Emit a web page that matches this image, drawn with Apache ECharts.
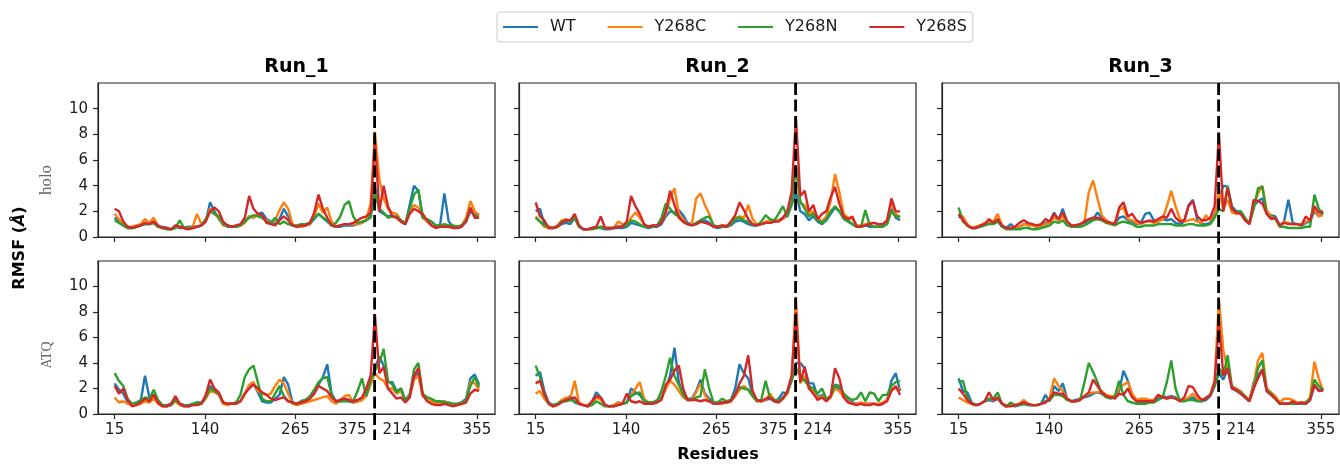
<!DOCTYPE html>
<html><head><meta charset="utf-8">
<script src="https://cdn.jsdelivr.net/npm/echarts@6/dist/echarts.min.js"></script>
<style>html,body{margin:0;padding:0;background:#fff}#c{width:1340px;height:466px}</style>
</head><body><div id="c"></div>
<script>
// ---- data ----
// position index along the concatenated chains (chain A 15..374, chain B 214..)
const positions = [0,6,12,18,24,30,36,42,48,54,60,66,72,78,84,90,96,102,108,114,120,126,132,138,144,150,156,162,168,174,180,186,192,198,204,210,216,222,228,234,240,246,252,258,264,270,276,282,288,294,300,306,312,318,324,330,336,342,348,354,360,366,372,378,384,390,396,402,408,414,420,426,432,438,444,450,456,462,468,474,480,486,492,498,504];
const tickPositions = [0,125,250,359.5,501];
const tickLabels = ['15','140','265','375|214','355'];
const chainBoundary = 359.5;
const yTicks = [0,2,4,6,8,10];
const runs = ['Run_1','Run_2','Run_3'];
const states = ['holo','ATQ'];
const variants = ['WT','Y268C','Y268N','Y268S'];
const colors = ['#1f77b4','#ff7f0e','#2ca02c','#d62728'];

const holo_run1_WT    = [1.5,1.2,0.9,0.7,0.7,0.8,0.9,1.0,1.0,1.1,0.8,0.8,0.7,0.6,0.8,0.7,0.7,0.8,0.8,0.8,0.9,1.2,2.7,2.0,1.4,1.0,0.8,0.8,0.8,0.9,1.2,1.6,1.5,1.8,1.9,1.4,1.2,1.0,1.4,2.2,1.6,0.9,0.8,0.8,0.9,1.0,1.4,1.8,1.5,1.2,0.9,0.8,0.8,0.9,0.9,0.9,1.0,1.1,1.3,1.9,4.0,2.0,1.8,1.6,1.7,1.5,1.2,1.0,2.5,4.0,3.6,1.6,1.3,1.2,0.9,0.9,3.4,1.2,0.8,0.8,0.9,1.2,2.0,1.7,1.8];
const holo_run1_Y268C = [1.8,1.4,1.0,0.8,0.8,0.9,1.0,1.4,1.1,1.5,0.9,0.7,0.7,0.6,0.8,0.8,0.7,0.7,0.8,1.8,1.0,1.3,2.2,1.8,1.5,0.9,0.9,0.8,0.8,0.9,1.1,1.6,1.5,1.8,1.5,1.3,1.1,1.3,2.1,2.7,2.2,1.0,0.8,0.8,0.9,1.0,1.6,2.6,1.9,2.3,1.2,0.8,0.9,1.0,1.0,1.0,1.0,1.1,1.4,2.6,8.2,4.5,3.0,2.2,1.9,1.8,1.3,1.0,2.0,2.5,2.3,1.5,1.2,0.9,0.8,0.8,0.9,0.8,0.8,0.8,0.9,1.5,2.8,2.0,1.7];
const holo_run1_Y268N = [1.3,1.1,0.9,0.7,0.7,0.8,0.9,1.0,1.0,1.1,0.8,0.7,0.6,0.6,0.7,1.3,0.7,0.7,0.7,0.8,0.9,1.4,2.0,1.8,1.6,1.0,0.9,0.8,0.8,0.9,1.2,1.5,1.7,1.6,1.5,1.2,1.1,1.5,1.0,1.2,1.0,0.9,0.9,1.0,1.0,1.1,1.5,1.8,1.5,1.3,0.9,1.1,1.6,2.5,2.8,1.6,1.1,1.2,1.3,1.5,3.5,2.2,1.9,1.5,1.6,1.6,1.3,1.1,2.2,3.3,3.7,1.5,1.4,1.2,0.9,0.9,1.0,0.9,0.9,0.8,0.9,1.3,2.2,1.6,1.6];
const holo_run1_Y268S = [2.2,2.0,1.2,0.8,0.7,0.8,0.9,1.1,1.0,1.2,0.9,0.7,0.7,0.6,0.9,0.8,0.7,0.6,0.7,0.8,0.9,1.2,2.0,2.3,2.0,1.2,0.9,0.8,0.9,1.0,1.5,3.2,2.2,1.8,1.7,1.1,1.0,0.9,1.3,1.6,1.3,0.9,0.8,0.9,0.9,1.1,1.9,3.3,2.2,1.5,0.9,0.8,0.9,1.0,1.0,1.1,1.3,1.5,1.6,1.9,7.6,2.0,4.0,2.4,1.6,1.5,1.2,1.0,1.8,2.2,2.0,1.8,1.3,0.9,0.7,0.8,0.8,0.8,0.7,0.7,0.8,1.2,2.3,1.5,1.5];

const holo_run2_WT    = [2.0,2.2,1.0,0.7,0.7,0.8,1.0,1.1,1.0,1.5,0.8,0.6,0.6,0.7,0.7,0.7,0.6,0.6,0.7,0.7,0.7,0.8,1.1,1.0,0.9,0.8,0.7,0.8,0.8,1.0,1.6,2.0,1.9,2.1,1.7,1.1,1.0,1.0,1.2,1.3,1.1,0.8,0.7,0.8,0.8,0.9,1.2,1.3,1.2,1.0,0.9,0.9,1.0,1.1,1.1,1.2,1.3,1.5,1.6,2.5,3.5,2.0,1.8,1.3,1.6,1.2,1.0,1.3,1.8,2.3,2.0,1.5,1.3,1.0,0.8,0.8,0.9,0.8,0.8,0.8,0.9,1.1,2.2,1.5,1.3];
const holo_run2_Y268C = [1.6,1.2,0.8,0.7,0.7,0.9,1.3,1.4,1.2,1.6,0.8,0.6,0.6,0.7,0.7,0.8,0.7,0.7,0.7,1.2,1.0,1.0,1.5,1.9,1.5,1.0,0.8,0.9,0.9,1.2,1.8,3.0,3.8,1.8,1.4,1.0,1.0,3.0,3.4,2.5,1.8,0.9,0.8,0.9,0.9,1.0,1.5,1.6,1.5,2.5,1.4,1.0,1.0,1.2,1.3,1.3,1.3,1.4,1.8,2.6,5.3,2.6,2.5,1.8,2.0,1.5,1.2,1.6,2.8,4.9,3.5,1.8,1.5,1.4,0.9,0.9,1.0,1.1,1.1,1.0,1.0,1.2,2.7,1.8,1.5];
const holo_run2_Y268N = [1.5,1.2,0.9,0.8,0.7,0.8,1.2,1.3,1.2,1.5,0.8,0.6,0.6,0.6,0.7,0.8,0.7,0.7,0.7,0.8,0.8,0.9,1.3,1.2,1.0,0.8,0.8,0.8,0.9,1.5,2.6,2.2,1.8,1.6,1.2,1.0,0.9,1.1,1.3,1.5,1.6,0.9,0.8,0.8,0.8,1.0,1.4,1.5,1.3,1.2,1.0,0.9,1.2,1.7,1.4,1.3,1.8,2.4,1.6,2.6,5.6,2.8,2.2,1.6,1.8,1.3,1.1,1.4,2.0,2.4,2.0,1.4,1.2,1.0,0.8,0.8,2.1,0.9,0.8,0.8,0.8,1.0,2.0,1.6,1.6];
const holo_run2_Y268S = [2.7,1.6,1.3,0.7,0.7,0.8,1.1,1.3,1.3,1.8,0.9,0.6,0.6,0.7,0.8,1.6,0.7,0.7,0.7,0.8,0.8,1.2,3.2,2.4,1.8,1.0,0.8,0.9,0.9,1.1,2.0,3.6,2.5,1.5,1.2,1.0,0.9,1.0,1.2,1.1,1.0,0.8,0.8,0.9,0.8,1.2,1.7,2.7,2.1,1.4,1.0,0.9,1.0,1.1,1.1,1.2,1.2,1.5,2.0,3.5,9.3,3.2,3.6,2.0,2.5,1.4,1.8,2.0,3.1,3.9,2.6,1.6,1.4,1.6,0.8,0.8,0.9,1.0,1.1,1.0,1.0,1.3,3.0,2.0,2.0];

const holo_run3_WT    = [1.6,1.4,0.9,0.7,0.7,0.9,1.0,1.2,1.1,1.3,0.8,0.7,1.0,0.7,0.8,1.0,1.0,0.9,0.8,0.9,1.1,1.2,1.9,1.3,2.2,1.2,0.9,0.9,1.0,1.1,1.3,1.4,1.9,1.5,1.2,1.1,1.0,1.5,1.6,1.3,1.2,1.0,1.1,1.8,1.9,1.3,1.2,1.4,1.3,1.4,1.1,1.0,1.2,2.5,2.9,1.3,1.0,1.0,1.1,1.8,3.0,4.0,3.9,2.4,2.0,2.0,1.4,1.1,2.4,2.8,3.0,1.9,1.7,1.6,0.9,1.2,2.9,1.1,1.0,0.9,1.1,1.2,2.0,1.6,1.9];
const holo_run3_Y268C = [1.7,1.6,1.0,0.7,0.8,0.9,1.1,1.2,1.2,1.8,0.9,0.7,0.7,0.7,0.8,1.0,0.9,0.9,0.8,0.9,1.0,1.1,1.5,1.3,1.6,1.0,0.9,0.9,1.0,1.2,3.5,4.4,3.0,1.7,1.3,1.1,1.1,2.1,2.3,1.4,1.3,1.1,1.0,1.2,1.2,1.1,1.2,1.4,2.4,3.6,2.4,1.4,1.2,1.3,1.4,1.2,1.1,1.7,1.3,1.6,3.6,2.2,2.9,1.9,1.8,1.9,1.4,1.0,2.3,3.4,4.0,2.1,1.6,1.4,0.9,1.2,1.1,1.0,1.0,1.0,1.2,1.3,2.2,1.6,1.7];
const holo_run3_Y268N = [2.3,1.2,0.9,0.7,0.7,0.8,0.9,1.0,1.0,1.2,0.8,0.6,0.6,0.6,0.6,0.7,0.7,0.6,0.6,0.7,0.8,0.9,1.2,1.1,1.3,0.9,0.8,0.8,0.8,0.9,1.1,1.3,1.4,1.3,1.1,1.0,0.9,1.1,1.2,1.1,1.0,0.8,0.8,0.9,0.9,0.9,1.0,1.0,1.0,1.0,0.9,0.9,0.9,1.0,1.0,0.9,0.9,0.9,1.0,1.5,2.2,2.0,4.0,2.2,1.9,2.0,1.5,1.0,2.2,3.8,3.9,1.8,1.5,1.4,0.8,0.8,0.7,0.7,0.7,0.7,0.8,0.8,3.3,2.2,1.8];
const holo_run3_Y268S = [1.8,1.3,0.9,0.7,0.7,0.9,1.0,1.4,1.1,1.4,0.9,0.7,0.7,0.8,1.1,1.3,1.1,1.0,0.9,1.0,1.4,1.2,1.8,1.4,1.9,1.2,0.9,0.9,1.0,1.2,1.4,1.5,1.5,1.4,1.2,1.1,1.0,2.3,2.7,1.6,1.8,1.3,1.1,1.2,1.3,1.2,1.4,1.6,1.5,2.2,1.5,1.2,1.3,2.4,2.8,1.6,1.3,1.3,1.5,2.4,8.1,2.0,3.8,2.2,1.9,1.8,1.3,1.0,2.9,2.8,2.6,1.8,1.4,1.5,0.9,1.1,1.0,1.0,1.0,0.9,1.6,1.3,2.4,1.9,2.0];

const ATQ_run1_WT    = [2.4,1.9,1.6,0.9,0.7,0.8,1.0,3.0,1.3,1.5,1.0,0.7,0.7,0.8,1.2,0.8,0.7,0.7,0.8,0.9,0.9,1.3,2.2,1.9,1.6,0.9,0.8,0.8,0.9,1.0,1.6,2.2,2.4,1.7,1.0,0.9,0.9,1.2,1.5,2.9,2.3,0.9,0.8,1.0,1.1,1.3,1.6,2.3,2.9,3.9,1.6,1.0,1.0,1.1,1.0,0.9,1.0,1.1,1.5,2.5,3.6,4.5,3.8,2.5,2.5,1.8,2.0,1.1,1.5,2.9,3.2,1.5,1.3,1.1,1.0,0.9,1.0,0.8,0.7,0.8,0.9,1.2,2.8,3.1,2.3];
const ATQ_run1_Y268C = [1.3,0.9,1.0,0.8,0.7,0.7,0.8,1.0,0.9,1.2,0.8,0.6,0.6,0.7,1.0,0.7,0.6,0.6,0.7,0.8,0.8,1.2,1.8,1.7,1.5,0.8,0.7,0.8,0.8,1.0,1.5,2.3,2.5,1.8,1.6,1.5,1.6,2.2,2.7,2.4,1.6,0.8,0.7,0.8,0.9,1.0,1.1,1.2,1.3,1.4,1.0,0.8,1.1,1.4,1.5,0.9,1.0,1.1,1.4,2.3,3.2,2.8,2.6,2.0,2.0,1.6,1.8,1.0,1.3,2.7,3.0,1.4,1.2,1.0,0.8,0.8,1.0,0.8,0.8,0.7,0.8,1.0,2.5,2.4,1.9];
const ATQ_run1_Y268N = [3.2,2.6,2.2,1.2,0.8,0.9,1.1,1.3,1.2,1.9,1.1,0.7,0.6,0.7,1.1,0.8,0.7,0.6,0.8,0.9,0.8,1.3,2.0,1.8,1.6,0.9,0.8,0.8,0.9,1.5,2.9,3.5,3.8,2.5,1.2,1.0,1.0,1.6,2.2,1.4,1.0,0.9,0.8,1.0,1.1,1.4,1.9,2.5,2.8,2.9,1.5,1.0,1.0,1.0,1.0,1.0,1.8,2.8,1.4,2.6,3.4,4.0,5.1,2.6,2.3,1.7,2.0,1.0,1.5,3.5,4.0,1.6,1.3,1.2,1.0,1.0,0.9,0.9,0.8,0.8,0.9,1.1,2.2,2.9,2.1];
const ATQ_run1_Y268S = [2.2,1.6,2.0,1.1,0.6,0.7,0.9,1.2,1.0,1.5,0.9,0.6,0.6,0.8,1.4,0.8,0.6,0.6,0.7,0.7,0.8,1.5,2.7,2.0,1.7,0.9,0.8,0.8,0.8,1.0,1.6,2.0,2.3,2.0,1.7,1.5,1.2,1.1,1.2,1.3,1.0,0.9,0.8,0.9,1.0,1.2,1.6,2.2,2.0,1.8,1.3,1.0,1.1,1.2,1.1,1.0,1.1,1.3,2.0,3.0,7.8,3.2,3.7,2.0,1.6,1.2,1.3,0.9,1.3,3.0,3.6,1.5,1.0,0.8,0.7,0.7,0.8,0.7,0.6,0.7,0.8,0.9,1.6,1.9,1.8];

const ATQ_run2_WT    = [3.0,3.3,1.8,0.9,0.7,0.8,1.0,1.1,1.4,0.9,0.8,0.7,0.6,1.0,1.7,1.3,0.7,0.6,0.7,0.9,0.8,0.9,2.0,1.7,1.5,1.0,0.9,0.9,1.1,1.3,2.0,3.0,5.2,2.5,1.6,1.2,1.2,1.8,2.7,1.6,1.2,0.9,0.8,0.9,0.9,1.1,2.0,3.9,3.2,2.8,1.5,1.1,1.0,1.1,1.2,1.0,1.2,1.7,1.6,2.7,4.0,4.0,3.6,2.4,2.4,1.3,1.5,1.1,1.3,2.2,2.0,1.4,1.1,0.9,0.8,0.8,0.8,0.8,0.8,0.7,0.8,1.1,2.6,3.2,1.8];
const ATQ_run2_Y268C = [1.6,1.8,1.2,0.8,0.6,0.8,1.1,1.3,1.2,2.6,0.9,0.7,0.7,0.9,1.3,1.1,0.7,0.6,0.7,0.9,0.8,0.9,1.5,2.0,2.5,1.2,0.9,0.9,1.0,1.2,2.0,2.6,2.3,1.8,1.3,1.1,1.1,1.7,2.4,1.5,1.0,0.8,0.8,0.8,0.9,1.0,1.4,1.9,2.2,1.9,1.4,1.0,1.0,1.1,1.6,1.1,1.0,1.2,1.6,2.8,9.2,2.4,3.0,2.0,1.8,1.2,1.4,1.0,1.3,2.0,1.8,1.3,1.0,0.8,0.8,0.9,0.8,0.8,0.8,0.8,0.9,1.1,2.0,2.0,2.0];
const ATQ_run2_Y268N = [3.8,2.9,1.5,0.8,0.7,0.8,1.0,1.0,1.1,1.0,0.8,0.7,0.6,0.7,1.0,0.8,0.6,0.6,0.6,0.7,0.8,0.9,1.4,1.6,1.7,1.0,0.9,0.9,1.0,1.8,3.0,4.4,3.0,2.3,1.5,1.1,1.1,1.3,1.4,3.5,2.0,0.9,0.9,1.2,1.0,1.1,1.6,2.1,2.0,1.9,1.4,1.0,1.1,2.6,1.3,1.1,1.0,1.3,1.7,2.6,3.6,3.0,2.6,2.2,2.0,1.6,2.0,1.2,1.4,2.3,2.2,1.6,1.3,1.1,1.2,1.7,1.0,1.7,1.6,1.0,1.5,1.5,2.2,2.5,2.6];
const ATQ_run2_Y268S = [2.4,2.6,1.6,0.8,0.6,0.7,0.9,1.1,1.2,1.3,0.8,0.7,0.6,1.0,1.4,1.3,0.7,0.6,0.6,0.7,0.8,1.6,1.0,0.9,1.0,0.8,0.8,0.8,0.9,1.1,2.3,2.7,3.4,3.8,2.0,1.1,1.1,1.1,1.0,1.1,1.0,0.8,0.8,0.9,0.9,1.0,1.5,2.4,3.0,4.6,1.8,1.1,1.0,1.2,1.3,1.0,0.9,1.2,1.8,3.0,8.0,2.5,3.7,2.0,1.6,1.1,1.3,1.0,1.4,3.6,2.8,1.3,0.9,0.8,0.7,0.8,0.7,0.7,0.8,0.7,0.8,1.0,1.8,2.2,1.5];

const ATQ_run3_WT    = [2.8,1.8,1.7,0.9,0.7,0.8,1.0,1.1,1.0,1.2,0.8,0.6,0.7,0.6,0.7,0.8,0.7,0.7,0.7,0.8,1.5,1.0,2.2,1.8,2.4,1.2,1.0,1.1,1.2,1.3,1.4,1.6,1.7,1.6,1.4,1.4,1.3,1.8,3.4,2.6,1.5,1.0,0.9,0.9,1.0,1.0,1.2,1.4,1.3,1.4,1.3,1.1,1.1,1.2,1.3,1.1,1.0,1.1,1.4,2.2,3.2,2.7,3.5,2.0,1.8,1.6,1.3,1.0,2.5,3.0,3.5,1.8,1.5,1.2,0.9,0.8,0.8,0.8,0.8,0.8,0.8,1.1,2.2,1.9,1.8];
const ATQ_run3_Y268C = [1.3,1.1,0.9,0.8,0.7,0.8,1.0,1.2,1.1,1.3,0.8,0.7,0.7,0.7,0.8,1.1,0.8,0.7,0.7,0.8,0.9,1.3,2.8,2.2,1.8,1.2,1.0,1.0,1.2,1.4,1.6,1.7,1.7,1.8,1.5,1.4,1.4,2.0,2.3,2.5,1.6,1.1,1.2,1.2,1.1,1.1,1.5,1.3,1.2,1.3,1.2,1.1,1.1,1.3,1.6,1.2,1.1,1.2,1.5,2.6,9.0,5.0,3.5,2.2,2.0,1.8,1.4,1.1,2.3,4.2,4.8,2.0,1.7,1.4,0.9,1.2,1.2,1.1,0.9,0.9,0.9,1.3,4.1,2.8,1.8];
const ATQ_run3_Y268N = [2.5,2.6,1.3,0.8,0.7,0.8,1.0,1.2,1.2,1.7,0.8,0.6,0.9,0.7,0.7,0.8,0.7,0.7,0.7,0.8,1.0,1.1,1.5,1.5,1.4,1.1,1.0,1.0,1.1,2.5,4.0,3.3,2.5,1.6,1.3,1.2,1.4,2.6,1.5,1.0,0.9,0.8,0.8,0.8,0.9,0.9,1.1,1.3,2.5,4.2,2.0,1.0,1.0,1.1,1.1,1.0,1.0,1.3,1.5,2.2,3.6,3.0,4.6,2.1,1.9,1.7,1.4,1.0,2.0,3.6,4.2,1.9,1.6,1.2,0.8,0.8,0.8,0.8,0.8,0.8,0.9,1.2,2.7,2.2,1.9];
const ATQ_run3_Y268S = [2.0,1.6,1.1,0.8,0.7,0.8,1.0,1.7,1.1,1.3,0.8,0.6,0.6,0.7,0.8,0.9,0.8,0.7,0.7,0.8,0.9,1.2,1.7,1.6,1.6,1.2,1.0,1.0,1.1,1.4,1.7,2.7,2.2,1.7,1.4,1.3,1.2,1.6,1.5,2.0,1.3,1.0,1.0,1.0,1.0,1.0,1.5,1.3,1.2,1.3,1.2,1.0,1.3,2.2,2.1,1.5,1.1,1.2,1.5,2.5,7.2,3.0,3.6,2.0,1.9,1.6,1.3,1.0,2.0,2.8,3.5,1.8,1.5,1.2,0.8,0.8,0.8,1.0,0.8,0.9,0.8,1.1,2.3,1.8,1.9];

// ---- chart ----
const panelData = [
  [[holo_run1_WT,holo_run1_Y268C,holo_run1_Y268N,holo_run1_Y268S],
   [holo_run2_WT,holo_run2_Y268C,holo_run2_Y268N,holo_run2_Y268S],
   [holo_run3_WT,holo_run3_Y268C,holo_run3_Y268N,holo_run3_Y268S]],
  [[ATQ_run1_WT,ATQ_run1_Y268C,ATQ_run1_Y268N,ATQ_run1_Y268S],
   [ATQ_run2_WT,ATQ_run2_Y268C,ATQ_run2_Y268N,ATQ_run2_Y268S],
   [ATQ_run3_WT,ATQ_run3_Y268C,ATQ_run3_Y268N,ATQ_run3_Y268S]]
];

const FONT = 'DejaVu Sans';
const AX = '#262626';
const colLeft = [98, 519, 942], colW = 397;
const rowTop = [83, 261], rowH = [154, 153];
const xMin = -23, xMax = 526, yMin = 0, yMax = 12;

const grids = [], xAxes = [], yAxes = [], series = [];
for (let r = 0; r < 2; r++) {
  for (let c = 0; c < 3; c++) {
    const gi = r * 3 + c;
    grids.push({left: colLeft[c], top: rowTop[r], width: colW, height: rowH[r],
      show: true, borderColor: AX, borderWidth: 1.2, backgroundColor: 'transparent', containLabel: false});
    xAxes.push({type: 'value', gridIndex: gi, min: xMin, max: xMax,
      axisLine: {show: true, onZero: false, lineStyle: {color: AX, width: 1.2}},
      axisTick: {show: true, length: 5, inside: false, customValues: tickPositions, lineStyle: {color: AX, width: 1.2}},
      axisLabel: {show: r === 1, customValues: tickPositions, margin: 9, fontFamily: FONT, fontSize: 15, color: '#1a1a1a',
        formatter: function (v) {
          const k = tickPositions.indexOf(v);
          const t = k >= 0 ? tickLabels[k] : '';
          if (t.indexOf('|') >= 0) { const p = t.split('|'); return '{a|' + p[0] + '}{g|}{a|' + p[1] + '}'; }
          return t;
        },
        rich: {a: {fontFamily: FONT, fontSize: 15, color: '#1a1a1a'}, g: {width: 16}}},
      splitLine: {show: false}});
    yAxes.push({type: 'value', gridIndex: gi, min: yMin, max: yMax,
      axisLine: {show: true, onZero: false, lineStyle: {color: AX, width: 1.2}},
      axisTick: {show: true, length: 5, customValues: yTicks, lineStyle: {color: AX, width: 1.2}},
      axisLabel: {show: c === 0, customValues: yTicks, margin: 10, fontFamily: FONT, fontSize: 15, color: '#1a1a1a'},
      splitLine: {show: false}});
    variants.forEach((v, s) => {
      const arr = panelData[r][c][s];
      series.push({type: 'line', name: v, xAxisIndex: gi, yAxisIndex: gi,
        data: positions.map((p, k) => [p, arr[k]]), symbol: 'none', showSymbol: false,
        lineStyle: {width: 2.4, color: colors[s]}, itemStyle: {color: colors[s]}, z: 2 + s, animation: false});
    });
  }
}

const chart = echarts.init(document.getElementById('c'), null, {renderer: 'canvas', width: 1340, height: 466});
chart.setOption({
  animation: false,
  backgroundColor: '#ffffff',
  grid: grids, xAxis: xAxes, yAxis: yAxes, series: series,
  legend: {data: variants.map((v, s) => ({name: v, icon: 'rect', itemStyle: {color: colors[s]}})),
    left: 497, top: 12, orient: 'horizontal', itemWidth: 35, itemHeight: 2, itemGap: 32,
    padding: [7, 6], borderColor: '#cccccc', borderWidth: 1, borderRadius: 3, backgroundColor: '#fff',
    textStyle: {fontFamily: FONT, fontSize: 16, color: '#1a1a1a', padding: [0, 0, 0, 7]}}
});

const gfx = [];
for (let c = 0; c < 3; c++) {
  const x = chart.convertToPixel({xAxisIndex: c}, chainBoundary);
  const yTop = chart.convertToPixel({yAxisIndex: c}, yMax);
  const yBot = chart.convertToPixel({yAxisIndex: 3 + c}, yMin) + 26;
  gfx.push({type: 'line', silent: true, z: 100, shape: {x1: x, y1: yTop, x2: x, y2: yBot},
    style: {stroke: '#000', lineWidth: 2.8, lineDash: [12, 4.5]}});
  gfx.push({type: 'text', silent: true, x: colLeft[c] + colW / 2, y: 67,
    style: {text: runs[c], align: 'center', verticalAlign: 'middle', fontFamily: FONT, fontWeight: 'bold', fontSize: 19, fill: '#000'}});
}
gfx.push({type: 'text', silent: true, x: 47, y: 180, rotation: Math.PI / 2,
  style: {text: states[0], align: 'center', verticalAlign: 'middle', fontFamily: 'Liberation Serif', fontSize: 17, fill: '#666'}});
gfx.push({type: 'text', silent: true, x: 47, y: 355, rotation: Math.PI / 2,
  style: {text: states[1], align: 'center', verticalAlign: 'middle', fontFamily: 'Liberation Serif', fontSize: 14, fill: '#666'}});
gfx.push({type: 'text', silent: true, x: 20, y: 248, rotation: Math.PI / 2,
  style: {text: '{b|RMSF (}{i|Å}{b|)}', align: 'center', verticalAlign: 'middle',
    rich: {b: {fontFamily: FONT, fontWeight: 'bold', fontSize: 16, fill: '#000'},
           i: {fontFamily: FONT, fontStyle: 'italic', fontWeight: 'bold', fontSize: 16, fill: '#000'}}}});
gfx.push({type: 'text', silent: true, x: 718, y: 455,
  style: {text: 'Residues', align: 'center', verticalAlign: 'middle', fontFamily: FONT, fontWeight: 'bold', fontSize: 16, fill: '#000'}});
chart.setOption({graphic: gfx});
</script>
</body></html>
